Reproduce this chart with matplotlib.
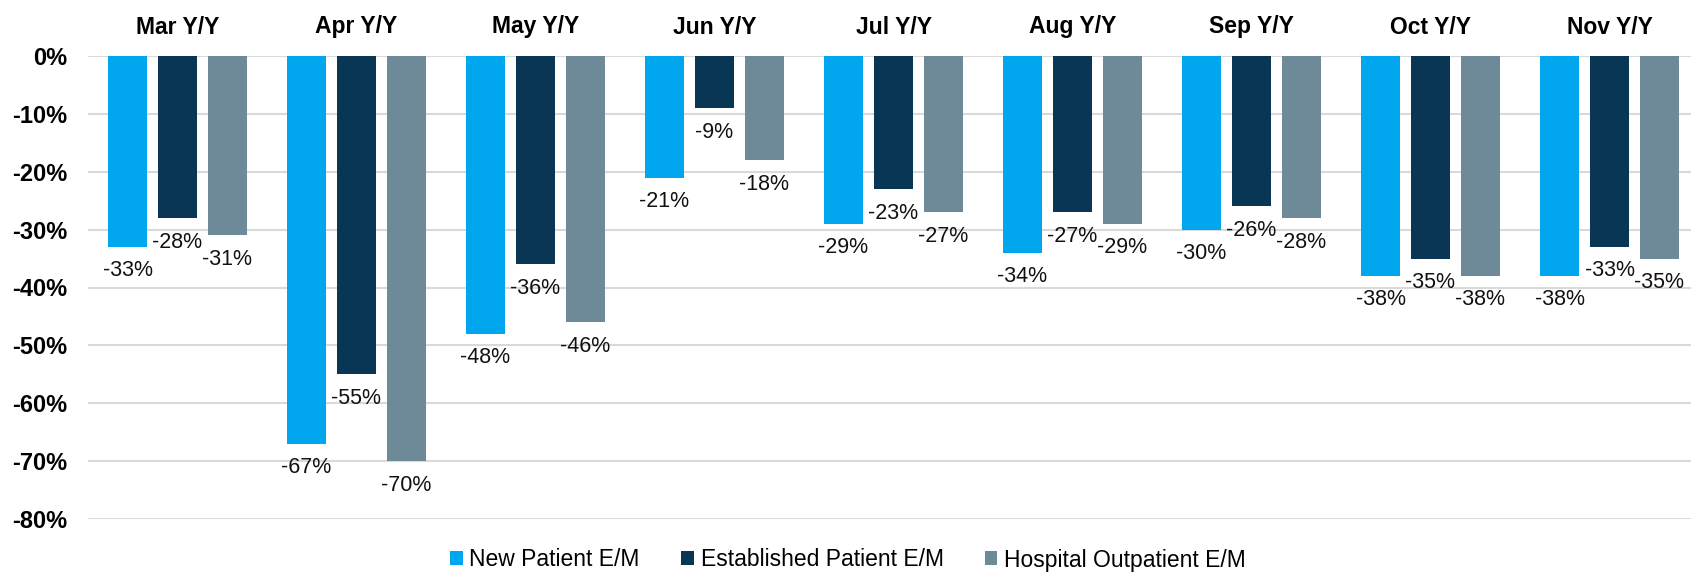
import matplotlib.pyplot as plt
import matplotlib.transforms as mtransforms
import numpy as np

plt.rcParams['font.family'] = ['Liberation Sans', 'DejaVu Sans']

months = ["Mar Y/Y", "Apr Y/Y", "May Y/Y", "Jun Y/Y", "Jul Y/Y",
          "Aug Y/Y", "Sep Y/Y", "Oct Y/Y", "Nov Y/Y"]
new_patient = [-33, -67, -48, -21, -29, -34, -30, -38, -38]
established = [-28, -55, -36, -9, -23, -27, -26, -35, -33]
hospital = [-31, -70, -46, -18, -27, -29, -28, -38, -35]

series = [
    ("New Patient E/M", new_patient, "#00A6EE"),
    ("Established Patient E/M", established, "#0A3656"),
    ("Hospital Outpatient E/M", hospital, "#6E8A99"),
]

W, H = 1691, 572
fig = plt.figure(figsize=(W / 100, H / 100), dpi=100)
ax = fig.add_axes([88 / W, 1 - 519 / H, 1 - 88 / W, 463 / H])

x = np.arange(len(months))
width = 0.218
offsets = [-0.279, 0, 0.279]

for (name, vals, color), off in zip(series, offsets):
    bars = ax.bar(x + off, vals, width, color=color, label=name, zorder=3)
    for b, v in zip(bars, vals):
        ax.annotate(f"{v}%", (b.get_x() + b.get_width() / 2, v),
                    xytext=(0, -24), textcoords="offset pixels",
                    ha="center", va="center", fontsize=15.5, color="#111111")

# month titles above each group
trans = mtransforms.blended_transform_factory(ax.transData, fig.transFigure)
for i, m in enumerate(months):
    ax.text(i, 1 - 27 / H, m, transform=trans,
            ha="center", va="center", fontsize=16.5, fontweight="bold")

ax.set_xlim(-0.5, -0.5 + (W - 88) / 179)
ax.set_ylim(-80, 0)
ticks = np.arange(-80, 1, 10)
ax.set_yticks(ticks)
ax.set_yticklabels([f"{t}%" for t in ticks], fontsize=17, fontweight="bold")
ax.set_xticks([])
ax.tick_params(axis="y", length=0, pad=15)
ax.grid(axis="y", color="#D9D9D9", linewidth=1.5, zorder=0)
for s in ax.spines.values():
    s.set_visible(False)

fig.legend(loc="center", bbox_to_anchor=(848 / W, 1 - 560 / H), ncol=3,
           frameon=False, fontsize=16.5, handlelength=0.55, handleheight=0.55,
           handletextpad=0.3, columnspacing=1.8)

fig.savefig("out.png", dpi=100)
